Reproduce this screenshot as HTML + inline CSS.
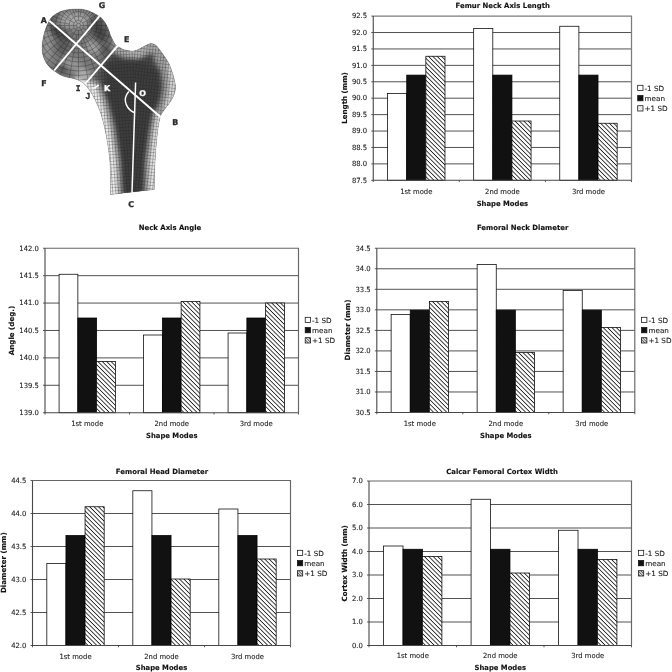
<!DOCTYPE html>
<html lang="en">
<head>
<meta charset="utf-8">
<title>Femur shape modes</title>
<style>
html,body{margin:0;padding:0;background:#fff;}
body{width:672px;height:672px;overflow:hidden;}
svg{display:block;}
.t{font-family:"DejaVu Sans","Liberation Sans",sans-serif;font-size:7.1px;fill:#1a1a1a;stroke:#1a1a1a;stroke-width:0.1;}
.tb{font-family:"DejaVu Sans","Liberation Sans",sans-serif;font-size:7.1px;font-weight:bold;fill:#111;stroke:#111;stroke-width:0.12;}
.grid{stroke:#333;stroke-width:0.85;}
.border{stroke:#666;stroke-width:1.15;fill:none;}
.axis{stroke:#484848;stroke-width:1.1;fill:none;}
.tick{stroke:#333;stroke-width:0.8;}
.bar{stroke:#000;stroke-width:0.75;}
.lbox{stroke:#111;stroke-width:0.75;}
.fw{fill:#fff !important;stroke:#fff !important;}
.fm{font-family:"DejaVu Sans Mono","Liberation Mono",monospace !important;}
.fj{font-family:"Liberation Sans","DejaVu Sans",sans-serif !important;font-size:8.4px !important;}
.fl{font-family:"DejaVu Sans","Liberation Sans",sans-serif;font-size:7.9px;font-weight:bold;fill:#2a2a2a;stroke:#2a2a2a;stroke-width:0.3;}
</style>
</head>
<body>
<svg width="672" height="672" viewBox="0 0 672 672">
<defs>
<pattern id="hatch" width="3.1" height="3.1" patternUnits="userSpaceOnUse" patternTransform="rotate(45)">
<rect width="3.1" height="3.1" fill="#fff"/>
<rect x="0" y="0" width="3.1" height="0.84" fill="#1c1c1c"/>
</pattern>
<pattern id="hatchl" width="2" height="2" patternUnits="userSpaceOnUse" patternTransform="rotate(45)">
<rect width="2" height="2" fill="#fff"/>
<rect x="0" y="0" width="2" height="0.5" fill="#bbb"/>
</pattern>
<pattern id="hatchs" width="2" height="2" patternUnits="userSpaceOnUse" patternTransform="rotate(45)">
<rect width="2" height="2" fill="#fff"/>
<rect x="0" y="0" width="2" height="0.8" fill="#333"/>
</pattern>
</defs>
<rect width="672" height="672" fill="#fff"/>
<g id="femur">
<defs>
<clipPath id="fclip"><path d="M110.5 194.5C110.4 189.2 110.7 172.0 110.0 162.5C109.3 153.0 107.9 145.0 106.6 137.5C105.3 130.0 103.4 122.6 102.0 117.5C100.6 112.4 99.8 110.6 98.2 106.8C96.6 103.0 94.5 98.3 92.3 94.6C90.1 90.9 87.3 87.0 85.0 84.6C82.7 82.2 80.9 81.4 78.6 80.3C76.3 79.2 74.0 78.8 71.4 78.1C68.8 77.4 65.8 77.2 62.9 76.0C60.0 74.8 56.7 72.7 54.3 71.0C51.9 69.3 50.4 68.3 48.6 66.0C46.8 63.7 44.7 60.6 43.6 57.4C42.5 54.2 42.0 51.1 42.1 47.0C42.2 42.9 43.1 37.3 44.3 32.9C45.5 28.5 47.6 23.7 49.3 20.7C51.0 17.7 52.0 16.7 54.3 15.0C56.6 13.3 59.3 11.7 62.9 10.7C66.5 9.7 71.7 9.0 75.7 8.9C79.7 8.8 83.2 9.1 87.1 10.3C91.0 11.6 96.4 14.5 99.3 16.4C102.2 18.3 102.8 19.6 104.3 21.6C105.8 23.6 107.1 26.2 108.2 28.6C109.3 31.0 109.5 33.1 110.7 35.7C111.9 38.3 113.8 42.4 115.2 44.3C116.6 46.2 117.7 46.3 119.3 47.3C120.9 48.2 122.3 49.4 124.9 50.0C127.5 50.6 131.8 51.3 134.9 50.8C138.0 50.3 140.8 48.0 143.4 46.8C146.0 45.6 148.4 43.8 150.6 43.6C152.8 43.4 154.4 44.2 156.3 45.7C158.2 47.2 160.1 50.3 162.0 52.9C163.9 55.5 166.3 59.0 167.7 61.4C169.1 63.8 169.5 64.5 170.6 67.4C171.7 70.3 173.3 75.3 174.1 78.9C174.9 82.5 175.8 85.6 175.4 88.9C175.1 92.2 173.8 95.6 172.0 98.9C170.2 102.2 166.8 106.1 164.9 108.9C163.0 111.8 161.8 112.1 160.6 116.0C159.4 119.9 158.4 124.8 157.5 132.5C156.6 140.2 155.5 153.0 155.0 162.5C154.5 172.0 154.4 184.9 154.3 189.4Z"/></clipPath>
<clipPath id="hclip"><path d="M30 0H99.5L117.8 45.6L85 84L70 100H30Z"/></clipPath>
<filter id="b1" x="-50%" y="-50%" width="200%" height="200%"><feGaussianBlur stdDeviation="1.2"/></filter>
<filter id="b2" x="-50%" y="-50%" width="200%" height="200%"><feGaussianBlur stdDeviation="2"/></filter>
<filter id="b3" x="-50%" y="-50%" width="200%" height="200%"><feGaussianBlur stdDeviation="3.2"/></filter>
<filter id="b5" x="-50%" y="-50%" width="200%" height="200%"><feGaussianBlur stdDeviation="5"/></filter>
<pattern id="mesh" width="2.9" height="3.3" patternUnits="userSpaceOnUse" patternTransform="rotate(-4)"><path d="M0 0H2.9M0 0V3.3" stroke="#1c1c1c" stroke-width="0.75" fill="none"/></pattern>
<pattern id="meshr" width="2.9" height="3.3" patternUnits="userSpaceOnUse" patternTransform="rotate(6)"><path d="M0 0H2.9M0 0V3.3" stroke="#1c1c1c" stroke-width="0.75" fill="none"/></pattern>
<pattern id="meshn" width="3.1" height="3.1" patternUnits="userSpaceOnUse" patternTransform="rotate(-32)"><path d="M0 0H3.1M0 0V3.1" stroke="#1c1c1c" stroke-width="0.55" fill="none"/></pattern>
</defs>
<path d="M110.5 194.5C110.4 189.2 110.7 172.0 110.0 162.5C109.3 153.0 107.9 145.0 106.6 137.5C105.3 130.0 103.4 122.6 102.0 117.5C100.6 112.4 99.8 110.6 98.2 106.8C96.6 103.0 94.5 98.3 92.3 94.6C90.1 90.9 87.3 87.0 85.0 84.6C82.7 82.2 80.9 81.4 78.6 80.3C76.3 79.2 74.0 78.8 71.4 78.1C68.8 77.4 65.8 77.2 62.9 76.0C60.0 74.8 56.7 72.7 54.3 71.0C51.9 69.3 50.4 68.3 48.6 66.0C46.8 63.7 44.7 60.6 43.6 57.4C42.5 54.2 42.0 51.1 42.1 47.0C42.2 42.9 43.1 37.3 44.3 32.9C45.5 28.5 47.6 23.7 49.3 20.7C51.0 17.7 52.0 16.7 54.3 15.0C56.6 13.3 59.3 11.7 62.9 10.7C66.5 9.7 71.7 9.0 75.7 8.9C79.7 8.8 83.2 9.1 87.1 10.3C91.0 11.6 96.4 14.5 99.3 16.4C102.2 18.3 102.8 19.6 104.3 21.6C105.8 23.6 107.1 26.2 108.2 28.6C109.3 31.0 109.5 33.1 110.7 35.7C111.9 38.3 113.8 42.4 115.2 44.3C116.6 46.2 117.7 46.3 119.3 47.3C120.9 48.2 122.3 49.4 124.9 50.0C127.5 50.6 131.8 51.3 134.9 50.8C138.0 50.3 140.8 48.0 143.4 46.8C146.0 45.6 148.4 43.8 150.6 43.6C152.8 43.4 154.4 44.2 156.3 45.7C158.2 47.2 160.1 50.3 162.0 52.9C163.9 55.5 166.3 59.0 167.7 61.4C169.1 63.8 169.5 64.5 170.6 67.4C171.7 70.3 173.3 75.3 174.1 78.9C174.9 82.5 175.8 85.6 175.4 88.9C175.1 92.2 173.8 95.6 172.0 98.9C170.2 102.2 166.8 106.1 164.9 108.9C163.0 111.8 161.8 112.1 160.6 116.0C159.4 119.9 158.4 124.8 157.5 132.5C156.6 140.2 155.5 153.0 155.0 162.5C154.5 172.0 154.4 184.9 154.3 189.4Z" fill="#5c5c5c"/>
<g clip-path="url(#fclip)">
<ellipse cx="76" cy="44" rx="37" ry="38" fill="#787878" filter="url(#b3)"/>
<ellipse cx="74" cy="20" rx="17" ry="8" fill="#a6a6a6" filter="url(#b3)"/>
<ellipse cx="47" cy="45" rx="5" ry="19" fill="#949494" filter="url(#b3)"/>
<ellipse cx="93" cy="47" rx="8" ry="6" fill="#9e9e9e" filter="url(#b2)" transform="rotate(40 93 47)"/>
<ellipse cx="72" cy="64" rx="11" ry="6" fill="#969696" filter="url(#b3)" transform="rotate(20 72 64)"/>
<ellipse cx="84" cy="74" rx="8" ry="5" fill="#ababab" filter="url(#b2)" transform="rotate(35 84 74)"/>
<ellipse cx="60" cy="34" rx="5" ry="13" fill="#444" filter="url(#b2)" transform="rotate(-48 60 34)"/>
<ellipse cx="63" cy="47" rx="6" ry="9" fill="#585858" filter="url(#b3)"/>
<ellipse cx="99" cy="30" rx="7" ry="14" fill="#444" filter="url(#b3)" transform="rotate(-24 99 30)"/>
<ellipse cx="54" cy="19" rx="7" ry="3" fill="#606060" filter="url(#b2)" transform="rotate(-40 54 19)"/>
<ellipse cx="62" cy="69" rx="7" ry="3.5" fill="#555" filter="url(#b2)" transform="rotate(25 62 69)"/>
<ellipse cx="106" cy="50" rx="5" ry="7" fill="#5a5a5a" filter="url(#b2)"/>
<path d="M100.0 64.0L119.0 50.0L150.0 47.0L166.0 62.0L170.0 90.0L158.0 112.0L153.0 140.0L150.0 197.0L117.0 197.0L116.0 150.0L108.0 112.0L100.0 90.0Z" fill="#4a4a4a" filter="url(#b3)"/>
<path d="M108.0 62.0L140.0 60.0L158.0 72.0L160.0 98.0L151.0 116.0L148.0 140.0L145.0 197.0L122.0 197.0L119.5 140.0L113.0 112.0L105.0 88.0Z" fill="#3e3e3e" filter="url(#b2)"/>
<path d="M74.0 74.0L99.0 82.0L107.0 102.0L114.0 126.0L120.0 160.0L122.5 200.0L100.0 200.0L100.0 162.0L96.0 137.0L90.0 117.0L80.0 94.0Z" fill="#b8b8b8" filter="url(#b2)"/>
<path d="M76.0 78.0L95.0 85.0L103.0 106.0L110.0 130.0L115.5 162.0L117.5 200.0L100.0 200.0L100.0 162.0L96.0 137.0L90.0 117.0L80.0 94.0Z" fill="#ececec" filter="url(#b1)"/>
<path d="M170.0 106.0L166.0 130.0L164.0 160.0L164.0 200.0L144.0 200.0L145.5 160.0L149.5 132.0L153.5 112.0Z" fill="#b4b4b4" filter="url(#b2)"/>
<path d="M170.0 110.0L167.0 132.0L165.0 162.0L164.0 200.0L148.5 200.0L150.0 160.0L153.5 134.0L157.0 114.0Z" fill="#e2e2e2" filter="url(#b1)"/>
<path d="M158.0 46.0L172.0 58.0L184.0 80.0L186.0 92.0L178.0 110.0L166.0 120.0L156.0 112.0L161.0 98.0L163.0 86.0L161.0 72.0L153.0 58.0Z" fill="#a2a2a2" filter="url(#b2)"/>
<path d="M167.0 60.0L182.0 78.0L184.0 90.0L180.0 104.0L168.0 114.0L163.0 109.0L168.0 94.0L169.0 80.0Z" fill="#d4d4d4" filter="url(#b1)"/>
<path d="M114.0 36.0L126.0 42.0L136.0 43.0L146.0 37.0L152.0 35.0L166.0 47.0L160.0 55.0L150.0 53.5L139.0 59.0L124.0 58.0L112.0 52.0Z" fill="#a8a8a8" filter="url(#b2)"/>
<path d="M128.0 44.0L138.0 45.0L146.0 42.0L146.0 52.0L138.0 56.0L128.0 55.0Z" fill="#b4b4b4" filter="url(#b2)"/>
</g>
<g clip-path="url(#fclip)">
<g fill="none" stroke="#1c1c1c" stroke-width="0.6" opacity="0.55" clip-path="url(#hclip)">
<circle cx="78.5" cy="25.5" r="2.2"/>
<circle cx="78.5" cy="25.5" r="5"/>
<circle cx="78.5" cy="25.5" r="9.5"/>
<circle cx="78.5" cy="25.5" r="14"/>
<circle cx="78.5" cy="25.5" r="18.5"/>
<circle cx="78.5" cy="25.5" r="23"/>
<circle cx="78.5" cy="25.5" r="27.5"/>
<circle cx="78.5" cy="25.5" r="32"/>
<circle cx="78.5" cy="25.5" r="36.5"/>
<circle cx="78.5" cy="25.5" r="41"/>
<circle cx="78.5" cy="25.5" r="45.5"/>
<circle cx="78.5" cy="25.5" r="50"/>
<circle cx="78.5" cy="25.5" r="54.5"/>
<circle cx="78.5" cy="25.5" r="59"/>
<path d="M80.7 25.5L142.5 25.5M87.9 27.1L141.5 36.6M91.7 30.3L138.6 47.4M82.8 28.0L133.9 57.5M85.8 31.6L127.5 66.6M87.5 36.2L119.6 74.5M79.6 27.4L110.5 80.9M81.7 34.4L100.4 85.6M80.9 39.3L89.6 88.5M78.5 30.5L78.5 89.5M76.9 34.9L67.4 88.5M73.7 38.7L56.6 85.6M77.4 27.4L46.5 80.9M72.4 32.8L37.4 74.5M67.8 34.5L29.5 66.6M74.2 28.0L23.1 57.5M69.6 28.7L18.4 47.4M64.7 27.9L15.5 36.6M76.3 25.5L14.5 25.5M69.1 23.9L15.5 14.4M65.3 20.7L18.4 3.6M74.2 23.0L23.1 -6.5M71.2 19.4L29.5 -15.6M69.5 14.8L37.4 -23.5M77.4 23.6L46.5 -29.9M75.3 16.6L56.6 -34.6M76.1 11.7L67.4 -37.5M78.5 20.5L78.5 -38.5M80.1 16.1L89.6 -37.5M83.3 12.3L100.4 -34.6M79.6 23.6L110.5 -29.9M84.6 18.2L119.6 -23.5M89.2 16.5L127.5 -15.6M82.8 23.0L133.9 -6.5M87.4 22.3L138.6 3.6M92.3 23.1L141.5 14.4"/>
</g>
<path d="M85 84L117.8 45.6L134 40V200H100Z" fill="url(#mesh)" opacity="0.7"/>
<path d="M134 40L190 40V200H134Z" fill="url(#meshr)" opacity="0.7"/>
</g>
<path d="M110.5 194.5C110.4 189.2 110.7 172.0 110.0 162.5C109.3 153.0 107.9 145.0 106.6 137.5C105.3 130.0 103.4 122.6 102.0 117.5C100.6 112.4 99.8 110.6 98.2 106.8C96.6 103.0 94.5 98.3 92.3 94.6C90.1 90.9 87.3 87.0 85.0 84.6C82.7 82.2 80.9 81.4 78.6 80.3C76.3 79.2 74.0 78.8 71.4 78.1C68.8 77.4 65.8 77.2 62.9 76.0C60.0 74.8 56.7 72.7 54.3 71.0C51.9 69.3 50.4 68.3 48.6 66.0C46.8 63.7 44.7 60.6 43.6 57.4C42.5 54.2 42.0 51.1 42.1 47.0C42.2 42.9 43.1 37.3 44.3 32.9C45.5 28.5 47.6 23.7 49.3 20.7C51.0 17.7 52.0 16.7 54.3 15.0C56.6 13.3 59.3 11.7 62.9 10.7C66.5 9.7 71.7 9.0 75.7 8.9C79.7 8.8 83.2 9.1 87.1 10.3C91.0 11.6 96.4 14.5 99.3 16.4C102.2 18.3 102.8 19.6 104.3 21.6C105.8 23.6 107.1 26.2 108.2 28.6C109.3 31.0 109.5 33.1 110.7 35.7C111.9 38.3 113.8 42.4 115.2 44.3C116.6 46.2 117.7 46.3 119.3 47.3C120.9 48.2 122.3 49.4 124.9 50.0C127.5 50.6 131.8 51.3 134.9 50.8C138.0 50.3 140.8 48.0 143.4 46.8C146.0 45.6 148.4 43.8 150.6 43.6C152.8 43.4 154.4 44.2 156.3 45.7C158.2 47.2 160.1 50.3 162.0 52.9C163.9 55.5 166.3 59.0 167.7 61.4C169.1 63.8 169.5 64.5 170.6 67.4C171.7 70.3 173.3 75.3 174.1 78.9C174.9 82.5 175.8 85.6 175.4 88.9C175.1 92.2 173.8 95.6 172.0 98.9C170.2 102.2 166.8 106.1 164.9 108.9C163.0 111.8 161.8 112.1 160.6 116.0C159.4 119.9 158.4 124.8 157.5 132.5C156.6 140.2 155.5 153.0 155.0 162.5C154.5 172.0 154.4 184.9 154.3 189.4Z" fill="none" stroke="#555" stroke-width="0.6" opacity="0.4"/>
<g stroke="#fff" stroke-width="1.9" fill="none">
<line x1="49.3" y1="20.7" x2="160.8" y2="117.2"/>
<line x1="99.5" y1="16.2" x2="54.2" y2="70.5"/>
<line x1="117.8" y1="45.6" x2="85" y2="84"/>
<line x1="93.3" y1="88.5" x2="98.8" y2="85.2" stroke-width="1.5"/>
<line x1="135.6" y1="82.4" x2="132" y2="192.8" stroke-width="1.5"/>
<path d="M128.8 91.4C125.2 95.5 124.6 100.3 126.2 104.4C127.8 108.2 130.6 111 134 112.5" stroke-width="1.45"/>
</g>
<text class="fl" x="43.9" y="22.6" text-anchor="middle">A</text>
<text class="fl" x="102.1" y="8.0" text-anchor="middle">G</text>
<text class="fl" x="126.6" y="41.9" text-anchor="middle">E</text>
<text class="fl" x="44.0" y="85.7" text-anchor="middle">F</text>
<text class="fl fm" x="78.1" y="90.7" text-anchor="middle">I</text>
<text class="fl fj" x="87.9" y="98.7" text-anchor="middle">J</text>
<text class="fl fw" x="107.1" y="90.7" text-anchor="middle">K</text>
<text class="fl fw" x="142.7" y="95.7" text-anchor="middle">O</text>
<text class="fl" x="175.2" y="124.5" text-anchor="middle">B</text>
<text class="fl" x="131.2" y="206.7" text-anchor="middle">C</text>
</g>
<g class="chart">
<rect x="373.25" y="16.1" width="258.25" height="164.20" fill="#fff" stroke="none"/>
<line class="grid" x1="373.25" y1="32.52" x2="631.5" y2="32.52"/>
<line class="grid" x1="373.25" y1="48.94" x2="631.5" y2="48.94"/>
<line class="grid" x1="373.25" y1="65.36" x2="631.5" y2="65.36"/>
<line class="grid" x1="373.25" y1="81.78" x2="631.5" y2="81.78"/>
<line class="grid" x1="373.25" y1="98.20" x2="631.5" y2="98.20"/>
<line class="grid" x1="373.25" y1="114.62" x2="631.5" y2="114.62"/>
<line class="grid" x1="373.25" y1="131.04" x2="631.5" y2="131.04"/>
<line class="grid" x1="373.25" y1="147.46" x2="631.5" y2="147.46"/>
<line class="grid" x1="373.25" y1="163.88" x2="631.5" y2="163.88"/>
<path class="border" d="M373.25 16.1H631.5V180.3" style="stroke:#7c7c7c;stroke-width:1.25"/>
<rect class="bar" x="387.60" y="93.40" width="19.13" height="86.90" fill="#fff"/>
<rect class="bar" x="406.73" y="75.10" width="19.13" height="105.20" fill="#111"/>
<rect x="425.86" y="56.25" width="19.13" height="124.05" fill="#fff"/>
<rect class="bar" x="425.86" y="56.25" width="19.13" height="124.05" fill="url(#hatch)"/>
<rect class="bar" x="473.68" y="28.50" width="19.13" height="151.80" fill="#fff"/>
<rect class="bar" x="492.81" y="75.10" width="19.13" height="105.20" fill="#111"/>
<rect x="511.94" y="121.00" width="19.13" height="59.30" fill="#fff"/>
<rect class="bar" x="511.94" y="121.00" width="19.13" height="59.30" fill="url(#hatch)"/>
<rect class="bar" x="559.76" y="26.25" width="19.13" height="154.05" fill="#fff"/>
<rect class="bar" x="578.89" y="75.10" width="19.13" height="105.20" fill="#111"/>
<rect x="598.02" y="123.25" width="19.13" height="57.05" fill="#fff"/>
<rect class="bar" x="598.02" y="123.25" width="19.13" height="57.05" fill="url(#hatch)"/>
<path class="axis" d="M373.25 16.1V180.3H631.5"/>
<line class="tick" x1="371.25" y1="16.10" x2="373.25" y2="16.10"/>
<line class="tick" x1="371.25" y1="32.52" x2="373.25" y2="32.52"/>
<line class="tick" x1="371.25" y1="48.94" x2="373.25" y2="48.94"/>
<line class="tick" x1="371.25" y1="65.36" x2="373.25" y2="65.36"/>
<line class="tick" x1="371.25" y1="81.78" x2="373.25" y2="81.78"/>
<line class="tick" x1="371.25" y1="98.20" x2="373.25" y2="98.20"/>
<line class="tick" x1="371.25" y1="114.62" x2="373.25" y2="114.62"/>
<line class="tick" x1="371.25" y1="131.04" x2="373.25" y2="131.04"/>
<line class="tick" x1="371.25" y1="147.46" x2="373.25" y2="147.46"/>
<line class="tick" x1="371.25" y1="163.88" x2="373.25" y2="163.88"/>
<line class="tick" x1="371.25" y1="180.30" x2="373.25" y2="180.30"/>
<line class="tick" x1="373.25" y1="180.3" x2="373.25" y2="182.10000000000002"/>
<line class="tick" x1="459.33" y1="180.3" x2="459.33" y2="182.10000000000002"/>
<line class="tick" x1="545.42" y1="180.3" x2="545.42" y2="182.10000000000002"/>
<line class="tick" x1="631.50" y1="180.3" x2="631.50" y2="182.10000000000002"/>
<text class="t" transform="translate(367.15 18.35) scale(0.965 1)" text-anchor="end">92.5</text>
<text class="t" transform="translate(367.15 34.77) scale(0.965 1)" text-anchor="end">92.0</text>
<text class="t" transform="translate(367.15 51.19) scale(0.965 1)" text-anchor="end">91.5</text>
<text class="t" transform="translate(367.15 67.61) scale(0.965 1)" text-anchor="end">91.0</text>
<text class="t" transform="translate(367.15 84.03) scale(0.965 1)" text-anchor="end">90.5</text>
<text class="t" transform="translate(367.15 100.45) scale(0.965 1)" text-anchor="end">90.0</text>
<text class="t" transform="translate(367.15 116.87) scale(0.965 1)" text-anchor="end">89.5</text>
<text class="t" transform="translate(367.15 133.29) scale(0.965 1)" text-anchor="end">89.0</text>
<text class="t" transform="translate(367.15 149.71) scale(0.965 1)" text-anchor="end">88.5</text>
<text class="t" transform="translate(367.15 166.13) scale(0.965 1)" text-anchor="end">88.0</text>
<text class="t" transform="translate(367.15 182.55) scale(0.965 1)" text-anchor="end">87.5</text>
<text class="t" transform="translate(416.29 193.60) scale(0.965 1)" text-anchor="middle">1st mode</text>
<text class="t" transform="translate(502.38 193.60) scale(0.965 1)" text-anchor="middle">2nd mode</text>
<text class="t" transform="translate(588.46 193.60) scale(0.965 1)" text-anchor="middle">3rd mode</text>
<text class="tb" transform="translate(502.38 205.60) scale(0.965 1)" text-anchor="middle">Shape Modes</text>
<text class="tb" transform="translate(346.80 98.00) rotate(-90) scale(1.0 1)" text-anchor="middle">Length (mm)</text>
<text class="tb" transform="translate(502.70 7.80) scale(0.972 1)" text-anchor="middle">Femur Neck Axis Length</text>
<rect class="lbox" x="637.70" y="85.30" width="5.3" height="5.3" fill="#fff"/>
<text class="t" transform="translate(644.50 90.50) scale(1.02 1)">-1 SD</text>
<rect class="lbox" x="637.70" y="95.50" width="5.3" height="5.3" fill="#111"/>
<text class="t" transform="translate(644.50 100.70) scale(1.02 1)">mean</text>
<rect class="lbox" x="637.70" y="105.70" width="5.3" height="5.3" fill="url(#hatchl)"/>
<text class="t" transform="translate(644.50 110.90) scale(1.02 1)">+1 SD</text>
</g>
<g class="chart">
<rect x="45" y="248.25" width="253.50" height="164.45" fill="#fff" stroke="none"/>
<line class="grid" x1="45" y1="275.66" x2="298.5" y2="275.66"/>
<line class="grid" x1="45" y1="303.07" x2="298.5" y2="303.07"/>
<line class="grid" x1="45" y1="330.48" x2="298.5" y2="330.48"/>
<line class="grid" x1="45" y1="357.88" x2="298.5" y2="357.88"/>
<line class="grid" x1="45" y1="385.29" x2="298.5" y2="385.29"/>
<path class="border" d="M45 248.25H298.5V412.7"/>
<rect class="bar" x="59.08" y="274.25" width="18.78" height="138.45" fill="#fff"/>
<rect class="bar" x="77.86" y="318.00" width="18.78" height="94.70" fill="#111"/>
<rect x="96.64" y="361.50" width="18.78" height="51.20" fill="#fff"/>
<rect class="bar" x="96.64" y="361.50" width="18.78" height="51.20" fill="url(#hatch)"/>
<rect class="bar" x="143.58" y="335.00" width="18.78" height="77.70" fill="#fff"/>
<rect class="bar" x="162.36" y="318.00" width="18.78" height="94.70" fill="#111"/>
<rect x="181.14" y="301.50" width="18.78" height="111.20" fill="#fff"/>
<rect class="bar" x="181.14" y="301.50" width="18.78" height="111.20" fill="url(#hatch)"/>
<rect class="bar" x="228.08" y="333.00" width="18.78" height="79.70" fill="#fff"/>
<rect class="bar" x="246.86" y="318.00" width="18.78" height="94.70" fill="#111"/>
<rect x="265.64" y="303.00" width="18.78" height="109.70" fill="#fff"/>
<rect class="bar" x="265.64" y="303.00" width="18.78" height="109.70" fill="url(#hatch)"/>
<path class="axis" d="M45 248.25V412.7H298.5"/>
<line class="tick" x1="43" y1="248.25" x2="45" y2="248.25"/>
<line class="tick" x1="43" y1="275.66" x2="45" y2="275.66"/>
<line class="tick" x1="43" y1="303.07" x2="45" y2="303.07"/>
<line class="tick" x1="43" y1="330.48" x2="45" y2="330.48"/>
<line class="tick" x1="43" y1="357.88" x2="45" y2="357.88"/>
<line class="tick" x1="43" y1="385.29" x2="45" y2="385.29"/>
<line class="tick" x1="43" y1="412.70" x2="45" y2="412.70"/>
<line class="tick" x1="45.00" y1="412.7" x2="45.00" y2="414.5"/>
<line class="tick" x1="129.50" y1="412.7" x2="129.50" y2="414.5"/>
<line class="tick" x1="214.00" y1="412.7" x2="214.00" y2="414.5"/>
<line class="tick" x1="298.50" y1="412.7" x2="298.50" y2="414.5"/>
<text class="t" transform="translate(38.90 250.50) scale(0.965 1)" text-anchor="end">142.0</text>
<text class="t" transform="translate(38.90 277.91) scale(0.965 1)" text-anchor="end">141.5</text>
<text class="t" transform="translate(38.90 305.32) scale(0.965 1)" text-anchor="end">141.0</text>
<text class="t" transform="translate(38.90 332.73) scale(0.965 1)" text-anchor="end">140.5</text>
<text class="t" transform="translate(38.90 360.13) scale(0.965 1)" text-anchor="end">140.0</text>
<text class="t" transform="translate(38.90 387.54) scale(0.965 1)" text-anchor="end">139.5</text>
<text class="t" transform="translate(38.90 414.95) scale(0.965 1)" text-anchor="end">139.0</text>
<text class="t" transform="translate(87.25 425.50) scale(0.965 1)" text-anchor="middle">1st mode</text>
<text class="t" transform="translate(171.75 425.50) scale(0.965 1)" text-anchor="middle">2nd mode</text>
<text class="t" transform="translate(256.25 425.50) scale(0.965 1)" text-anchor="middle">3rd mode</text>
<text class="tb" transform="translate(171.75 438.00) scale(0.965 1)" text-anchor="middle">Shape Modes</text>
<text class="tb" transform="translate(14.00 330.50) rotate(-90) scale(1.0 1)" text-anchor="middle">Angle (deg.)</text>
<text class="tb" transform="translate(170.00 230.30) scale(0.972 1)" text-anchor="middle">Neck Axis Angle</text>
<rect class="lbox" x="305.20" y="317.30" width="5.3" height="5.3" fill="#fff"/>
<text class="t" transform="translate(312.00 322.50) scale(1.02 1)">-1 SD</text>
<rect class="lbox" x="305.20" y="327.50" width="5.3" height="5.3" fill="#111"/>
<text class="t" transform="translate(312.00 332.70) scale(1.02 1)">mean</text>
<rect class="lbox" x="305.20" y="337.70" width="5.3" height="5.3" fill="url(#hatchs)"/>
<text class="t" transform="translate(312.00 342.90) scale(1.02 1)">+1 SD</text>
</g>
<g class="chart">
<rect x="376.8" y="248.25" width="258.00" height="164.25" fill="#fff" stroke="none"/>
<line class="grid" x1="376.8" y1="268.78" x2="634.8" y2="268.78"/>
<line class="grid" x1="376.8" y1="289.31" x2="634.8" y2="289.31"/>
<line class="grid" x1="376.8" y1="309.84" x2="634.8" y2="309.84"/>
<line class="grid" x1="376.8" y1="330.38" x2="634.8" y2="330.38"/>
<line class="grid" x1="376.8" y1="350.91" x2="634.8" y2="350.91"/>
<line class="grid" x1="376.8" y1="371.44" x2="634.8" y2="371.44"/>
<line class="grid" x1="376.8" y1="391.97" x2="634.8" y2="391.97"/>
<path class="border" d="M376.8 248.25H634.8V412.5"/>
<rect class="bar" x="391.13" y="314.50" width="19.11" height="98.00" fill="#fff"/>
<rect class="bar" x="410.24" y="310.20" width="19.11" height="102.30" fill="#111"/>
<rect x="429.36" y="301.50" width="19.11" height="111.00" fill="#fff"/>
<rect class="bar" x="429.36" y="301.50" width="19.11" height="111.00" fill="url(#hatch)"/>
<rect class="bar" x="477.13" y="264.50" width="19.11" height="148.00" fill="#fff"/>
<rect class="bar" x="496.24" y="310.20" width="19.11" height="102.30" fill="#111"/>
<rect x="515.36" y="352.50" width="19.11" height="60.00" fill="#fff"/>
<rect class="bar" x="515.36" y="352.50" width="19.11" height="60.00" fill="url(#hatch)"/>
<rect class="bar" x="563.13" y="290.50" width="19.11" height="122.00" fill="#fff"/>
<rect class="bar" x="582.24" y="310.20" width="19.11" height="102.30" fill="#111"/>
<rect x="601.36" y="327.50" width="19.11" height="85.00" fill="#fff"/>
<rect class="bar" x="601.36" y="327.50" width="19.11" height="85.00" fill="url(#hatch)"/>
<path class="axis" d="M376.8 248.25V412.5H634.8"/>
<line class="tick" x1="374.8" y1="248.25" x2="376.8" y2="248.25"/>
<line class="tick" x1="374.8" y1="268.78" x2="376.8" y2="268.78"/>
<line class="tick" x1="374.8" y1="289.31" x2="376.8" y2="289.31"/>
<line class="tick" x1="374.8" y1="309.84" x2="376.8" y2="309.84"/>
<line class="tick" x1="374.8" y1="330.38" x2="376.8" y2="330.38"/>
<line class="tick" x1="374.8" y1="350.91" x2="376.8" y2="350.91"/>
<line class="tick" x1="374.8" y1="371.44" x2="376.8" y2="371.44"/>
<line class="tick" x1="374.8" y1="391.97" x2="376.8" y2="391.97"/>
<line class="tick" x1="374.8" y1="412.50" x2="376.8" y2="412.50"/>
<line class="tick" x1="376.80" y1="412.5" x2="376.80" y2="414.3"/>
<line class="tick" x1="462.80" y1="412.5" x2="462.80" y2="414.3"/>
<line class="tick" x1="548.80" y1="412.5" x2="548.80" y2="414.3"/>
<line class="tick" x1="634.80" y1="412.5" x2="634.80" y2="414.3"/>
<text class="t" transform="translate(370.70 250.50) scale(0.965 1)" text-anchor="end">34.5</text>
<text class="t" transform="translate(370.70 271.03) scale(0.965 1)" text-anchor="end">34.0</text>
<text class="t" transform="translate(370.70 291.56) scale(0.965 1)" text-anchor="end">33.5</text>
<text class="t" transform="translate(370.70 312.09) scale(0.965 1)" text-anchor="end">33.0</text>
<text class="t" transform="translate(370.70 332.62) scale(0.965 1)" text-anchor="end">32.5</text>
<text class="t" transform="translate(370.70 353.16) scale(0.965 1)" text-anchor="end">32.0</text>
<text class="t" transform="translate(370.70 373.69) scale(0.965 1)" text-anchor="end">31.5</text>
<text class="t" transform="translate(370.70 394.22) scale(0.965 1)" text-anchor="end">31.0</text>
<text class="t" transform="translate(370.70 414.75) scale(0.965 1)" text-anchor="end">30.5</text>
<text class="t" transform="translate(419.80 425.50) scale(0.965 1)" text-anchor="middle">1st mode</text>
<text class="t" transform="translate(505.80 425.50) scale(0.965 1)" text-anchor="middle">2nd mode</text>
<text class="t" transform="translate(591.80 425.50) scale(0.965 1)" text-anchor="middle">3rd mode</text>
<text class="tb" transform="translate(505.80 438.00) scale(0.965 1)" text-anchor="middle">Shape Modes</text>
<text class="tb" transform="translate(350.30 330.00) rotate(-90) scale(1.0 1)" text-anchor="middle">Diameter (mm)</text>
<text class="tb" transform="translate(522.60 230.30) scale(0.972 1)" text-anchor="middle">Femoral Neck Diameter</text>
<rect class="lbox" x="641.60" y="317.30" width="5.3" height="5.3" fill="#fff"/>
<text class="t" transform="translate(648.40 322.50) scale(1.02 1)">-1 SD</text>
<rect class="lbox" x="641.60" y="327.50" width="5.3" height="5.3" fill="#111"/>
<text class="t" transform="translate(648.40 332.70) scale(1.02 1)">mean</text>
<rect class="lbox" x="641.60" y="337.70" width="5.3" height="5.3" fill="url(#hatchs)"/>
<text class="t" transform="translate(648.40 342.90) scale(1.02 1)">+1 SD</text>
</g>
<g class="chart">
<rect x="32.5" y="480.5" width="258.00" height="165.00" fill="#fff" stroke="none"/>
<line class="grid" x1="32.5" y1="513.50" x2="290.5" y2="513.50"/>
<line class="grid" x1="32.5" y1="546.50" x2="290.5" y2="546.50"/>
<line class="grid" x1="32.5" y1="579.50" x2="290.5" y2="579.50"/>
<line class="grid" x1="32.5" y1="612.50" x2="290.5" y2="612.50"/>
<path class="border" d="M32.5 480.5H290.5V645.5"/>
<rect class="bar" x="46.83" y="563.50" width="19.11" height="82.00" fill="#fff"/>
<rect class="bar" x="65.94" y="535.50" width="19.11" height="110.00" fill="#111"/>
<rect x="85.06" y="506.75" width="19.11" height="138.75" fill="#fff"/>
<rect class="bar" x="85.06" y="506.75" width="19.11" height="138.75" fill="url(#hatch)"/>
<rect class="bar" x="132.83" y="490.75" width="19.11" height="154.75" fill="#fff"/>
<rect class="bar" x="151.94" y="535.50" width="19.11" height="110.00" fill="#111"/>
<rect x="171.06" y="579.00" width="19.11" height="66.50" fill="#fff"/>
<rect class="bar" x="171.06" y="579.00" width="19.11" height="66.50" fill="url(#hatch)"/>
<rect class="bar" x="218.83" y="509.00" width="19.11" height="136.50" fill="#fff"/>
<rect class="bar" x="237.94" y="535.50" width="19.11" height="110.00" fill="#111"/>
<rect x="257.06" y="559.00" width="19.11" height="86.50" fill="#fff"/>
<rect class="bar" x="257.06" y="559.00" width="19.11" height="86.50" fill="url(#hatch)"/>
<path class="axis" d="M32.5 480.5V645.5H290.5"/>
<line class="tick" x1="30.5" y1="480.50" x2="32.5" y2="480.50"/>
<line class="tick" x1="30.5" y1="513.50" x2="32.5" y2="513.50"/>
<line class="tick" x1="30.5" y1="546.50" x2="32.5" y2="546.50"/>
<line class="tick" x1="30.5" y1="579.50" x2="32.5" y2="579.50"/>
<line class="tick" x1="30.5" y1="612.50" x2="32.5" y2="612.50"/>
<line class="tick" x1="30.5" y1="645.50" x2="32.5" y2="645.50"/>
<line class="tick" x1="32.50" y1="645.5" x2="32.50" y2="647.3"/>
<line class="tick" x1="118.50" y1="645.5" x2="118.50" y2="647.3"/>
<line class="tick" x1="204.50" y1="645.5" x2="204.50" y2="647.3"/>
<line class="tick" x1="290.50" y1="645.5" x2="290.50" y2="647.3"/>
<text class="t" transform="translate(26.40 482.75) scale(0.965 1)" text-anchor="end">44.5</text>
<text class="t" transform="translate(26.40 515.75) scale(0.965 1)" text-anchor="end">44.0</text>
<text class="t" transform="translate(26.40 548.75) scale(0.965 1)" text-anchor="end">43.5</text>
<text class="t" transform="translate(26.40 581.75) scale(0.965 1)" text-anchor="end">43.0</text>
<text class="t" transform="translate(26.40 614.75) scale(0.965 1)" text-anchor="end">42.5</text>
<text class="t" transform="translate(26.40 647.75) scale(0.965 1)" text-anchor="end">42.0</text>
<text class="t" transform="translate(75.50 658.50) scale(0.965 1)" text-anchor="middle">1st mode</text>
<text class="t" transform="translate(161.50 658.50) scale(0.965 1)" text-anchor="middle">2nd mode</text>
<text class="t" transform="translate(247.50 658.50) scale(0.965 1)" text-anchor="middle">3rd mode</text>
<text class="tb" transform="translate(161.50 670.00) scale(0.965 1)" text-anchor="middle">Shape Modes</text>
<text class="tb" transform="translate(6.40 562.70) rotate(-90) scale(1.0 1)" text-anchor="middle">Diameter (mm)</text>
<text class="tb" transform="translate(162.00 473.50) scale(0.972 1)" text-anchor="middle">Femoral Head Diameter</text>
<rect class="lbox" x="297.40" y="550.30" width="5.3" height="5.3" fill="#fff"/>
<text class="t" transform="translate(304.20 555.50) scale(1.02 1)">-1 SD</text>
<rect class="lbox" x="297.40" y="560.50" width="5.3" height="5.3" fill="#111"/>
<text class="t" transform="translate(304.20 565.70) scale(1.02 1)">mean</text>
<rect class="lbox" x="297.40" y="570.70" width="5.3" height="5.3" fill="url(#hatchs)"/>
<text class="t" transform="translate(304.20 575.90) scale(1.02 1)">+1 SD</text>
</g>
<g class="chart">
<rect x="369" y="481" width="262.50" height="164.50" fill="#fff" stroke="none"/>
<line class="grid" x1="369" y1="504.50" x2="631.5" y2="504.50"/>
<line class="grid" x1="369" y1="528.00" x2="631.5" y2="528.00"/>
<line class="grid" x1="369" y1="551.50" x2="631.5" y2="551.50"/>
<line class="grid" x1="369" y1="575.00" x2="631.5" y2="575.00"/>
<line class="grid" x1="369" y1="598.50" x2="631.5" y2="598.50"/>
<line class="grid" x1="369" y1="622.00" x2="631.5" y2="622.00"/>
<path class="border" d="M369 481H631.5V645.5"/>
<rect class="bar" x="383.58" y="546.00" width="19.44" height="99.50" fill="#fff"/>
<rect class="bar" x="403.03" y="549.25" width="19.44" height="96.25" fill="#111"/>
<rect x="422.47" y="556.50" width="19.44" height="89.00" fill="#fff"/>
<rect class="bar" x="422.47" y="556.50" width="19.44" height="89.00" fill="url(#hatch)"/>
<rect class="bar" x="471.08" y="499.25" width="19.44" height="146.25" fill="#fff"/>
<rect class="bar" x="490.53" y="549.25" width="19.44" height="96.25" fill="#111"/>
<rect x="509.97" y="573.00" width="19.44" height="72.50" fill="#fff"/>
<rect class="bar" x="509.97" y="573.00" width="19.44" height="72.50" fill="url(#hatch)"/>
<rect class="bar" x="558.58" y="530.25" width="19.44" height="115.25" fill="#fff"/>
<rect class="bar" x="578.03" y="549.25" width="19.44" height="96.25" fill="#111"/>
<rect x="597.47" y="559.50" width="19.44" height="86.00" fill="#fff"/>
<rect class="bar" x="597.47" y="559.50" width="19.44" height="86.00" fill="url(#hatch)"/>
<path class="axis" d="M369 481V645.5H631.5"/>
<line class="tick" x1="367" y1="481.00" x2="369" y2="481.00"/>
<line class="tick" x1="367" y1="504.50" x2="369" y2="504.50"/>
<line class="tick" x1="367" y1="528.00" x2="369" y2="528.00"/>
<line class="tick" x1="367" y1="551.50" x2="369" y2="551.50"/>
<line class="tick" x1="367" y1="575.00" x2="369" y2="575.00"/>
<line class="tick" x1="367" y1="598.50" x2="369" y2="598.50"/>
<line class="tick" x1="367" y1="622.00" x2="369" y2="622.00"/>
<line class="tick" x1="367" y1="645.50" x2="369" y2="645.50"/>
<line class="tick" x1="369.00" y1="645.5" x2="369.00" y2="647.3"/>
<line class="tick" x1="456.50" y1="645.5" x2="456.50" y2="647.3"/>
<line class="tick" x1="544.00" y1="645.5" x2="544.00" y2="647.3"/>
<line class="tick" x1="631.50" y1="645.5" x2="631.50" y2="647.3"/>
<text class="t" transform="translate(362.90 483.25) scale(0.965 1)" text-anchor="end">7.0</text>
<text class="t" transform="translate(362.90 506.75) scale(0.965 1)" text-anchor="end">6.0</text>
<text class="t" transform="translate(362.90 530.25) scale(0.965 1)" text-anchor="end">5.0</text>
<text class="t" transform="translate(362.90 553.75) scale(0.965 1)" text-anchor="end">4.0</text>
<text class="t" transform="translate(362.90 577.25) scale(0.965 1)" text-anchor="end">3.0</text>
<text class="t" transform="translate(362.90 600.75) scale(0.965 1)" text-anchor="end">2.0</text>
<text class="t" transform="translate(362.90 624.25) scale(0.965 1)" text-anchor="end">1.0</text>
<text class="t" transform="translate(362.90 647.75) scale(0.965 1)" text-anchor="end">0.0</text>
<text class="t" transform="translate(412.75 658.20) scale(0.965 1)" text-anchor="middle">1st mode</text>
<text class="t" transform="translate(500.25 658.20) scale(0.965 1)" text-anchor="middle">2nd mode</text>
<text class="t" transform="translate(587.75 658.20) scale(0.965 1)" text-anchor="middle">3rd mode</text>
<text class="tb" transform="translate(500.25 670.00) scale(0.965 1)" text-anchor="middle">Shape Modes</text>
<text class="tb" transform="translate(346.60 563.30) rotate(-90) scale(1.0 1)" text-anchor="middle">Cortex Width (mm)</text>
<text class="tb" transform="translate(502.00 473.50) scale(0.972 1)" text-anchor="middle">Calcar Femoral Cortex Width</text>
<rect class="lbox" x="638.40" y="550.30" width="5.3" height="5.3" fill="#fff"/>
<text class="t" transform="translate(645.20 555.50) scale(1.02 1)">-1 SD</text>
<rect class="lbox" x="638.40" y="560.50" width="5.3" height="5.3" fill="#111"/>
<text class="t" transform="translate(645.20 565.70) scale(1.02 1)">mean</text>
<rect class="lbox" x="638.40" y="570.70" width="5.3" height="5.3" fill="url(#hatchs)"/>
<text class="t" transform="translate(645.20 575.90) scale(1.02 1)">+1 SD</text>
</g>
</svg>
</body>
</html>
